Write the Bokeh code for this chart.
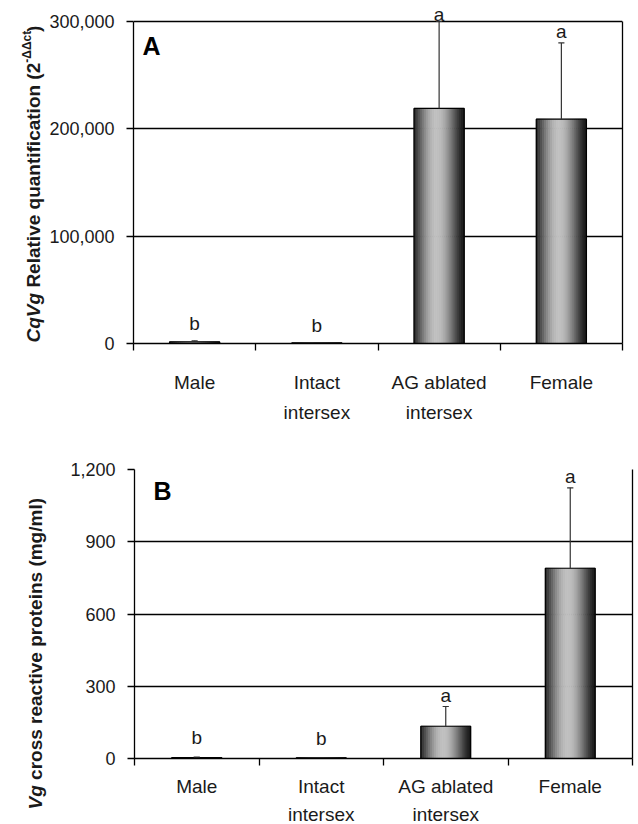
import math
from bokeh.plotting import figure
from bokeh.models import (Range1d, FixedTicker, NumeralTickFormatter, Label,
                          LabelSet, ColumnDataSource, LinearAxis)
from bokeh.layouts import column, row
from bokeh.core.properties import value
from bokeh.embed import file_html
from bokeh.resources import INLINE

# ---------------- data ----------------
categories = ["Male", "Intact\nintersex", "AG ablated\nintersex", "Female"]

a_means = [1500, 500, 219000, 209000]
a_errors = [1000, 300, 81000, 71000]
a_letters = ["b", "b", "a", "a"]
a_ticks = [0, 100000, 200000, 300000]

b_means = [4, 3, 134, 790]
b_errors = [2, 1, 82, 334]
b_letters = ["b", "b", "a", "a"]
b_ticks = [0, 300, 600, 900, 1200]

FONT = "Liberation Sans"
TXT = "#1a1a1a"

# Arial / Liberation Sans Bold advance widths (em)
BW = {" ": .278, "(": .333, ")": .333, "/": .278, "-": .333, "2": .556,
      "C": .722, "V": .667, "R": .722, "a": .556, "c": .556, "e": .556,
      "f": .333, "g": .611, "i": .278, "l": .278, "m": .889, "n": .611,
      "o": .611, "p": .611, "q": .611, "r": .389, "s": .556, "t": .333,
      "u": .611, "v": .556, "\u0394": .668}


def text_len(s, size):
    return sum(BW.get(ch, .556) for ch in s) * size


def shade(t):
    s = math.sin(math.pi * min(max(t, 0), 1) ** 0.9)
    v = 40 + 160 * max(s, 0) ** 1.4 - 16 * t
    v = int(max(20, min(230, v)))
    return "#%02x%02x%02x" % (v, v, v)


def title_fig(pieces, width, height, x_c, y_start):
    t = figure(output_backend="svg", toolbar_location=None,
               frame_width=width, frame_height=height,
               x_range=Range1d(0, width), y_range=Range1d(0, height),
               x_axis_location=None, y_axis_location=None,
               min_border=0)
    t.outline_line_color = None
    t.grid.visible = False
    t.background_fill_color = "white"
    t.border_fill_color = "white"
    pos = y_start
    for txt, size, style, shift in pieces:
        if txt.startswith(" "):
            pos += text_len(" ", size)
            txt = txt[1:]
        t.text(x=[x_c - shift], y=[pos], text=[txt], angle=math.pi / 2,
               text_font=value(FONT), text_font_size="%gpx" % size,
               text_font_style=style, text_color=TXT,
               text_align="left", text_baseline="middle")
        pos += text_len(txt, size)
    return t


def make_panel(means, errors, letters, ticks, ymax, frame_w, frame_h, extra,
               left, right, top, bottom, bar_w, panel_letter, letter_gap,
               standoff, line_h):
    ytop = ymax * (frame_h + extra) / frame_h
    p = figure(output_backend="svg", toolbar_location=None,
               frame_width=frame_w, frame_height=frame_h + extra,
               x_range=Range1d(0, len(categories)), y_range=Range1d(0, ytop),
               min_border_left=left, min_border_right=right,
               min_border_top=top, min_border_bottom=bottom)
    p.background_fill_color = "white"
    p.border_fill_color = "white"
    p.outline_line_color = None

    centers = [i + 0.5 for i in range(len(categories))]
    tops = [m + e for m, e in zip(means, errors)]

    # shaded (cylinder-like) bars built from thin slices
    N = 25
    xs, ws, ts, cs = [], [], [], []
    for c, m in zip(centers, means):
        for k in range(N):
            t = (k + 0.5) / N
            xs.append(c - bar_w / 2 + t * bar_w)
            ws.append(bar_w / N)
            ts.append(m)
            cs.append(shade(t))
    p.vbar(x=xs, width=ws, top=ts, bottom=0, fill_color=cs, line_color=cs,
           line_width=0.8)
    p.vbar(x=centers, width=bar_w, top=means, bottom=0, fill_color=None,
           line_color="black", line_width=1.2)

    # error bars (upper only)
    cap = 0.025
    p.segment(x0=centers, y0=means, x1=centers, y1=tops,
              line_color="#333333", line_width=1.2)
    p.segment(x0=[c - cap for c in centers], y0=tops,
              x1=[c + cap for c in centers], y1=tops,
              line_color="#333333", line_width=1.2)

    # significance letters
    src = ColumnDataSource(dict(x=centers, y=tops, text=letters,
                                yoff=letter_gap))
    p.add_layout(LabelSet(x="x", y="y", text="text", source=src,
                          y_offset="yoff", text_align="center",
                          text_baseline="alphabetic", text_font=value(FONT),
                          text_font_size="19px", text_color=TXT))

    # panel letter
    p.add_layout(Label(x=0, y=ymax, x_offset=panel_letter[1],
                       y_offset=-panel_letter[2], text=panel_letter[0],
                       text_font=FONT, text_font_size="25px",
                       text_font_style="bold", text_color="black",
                       text_align="left", text_baseline="top"))

    # axes
    yax = p.yaxis[0]
    yax.bounds = (0, ymax)
    yax.ticker = FixedTicker(ticks=ticks, minor_ticks=[])
    yax.formatter = NumeralTickFormatter(format="0,0")
    yax.axis_line_color = "black"
    yax.axis_line_width = 1.3
    yax.major_tick_line_color = "black"
    yax.major_tick_line_width = 1.3
    yax.major_tick_out = 7
    yax.major_tick_in = 0
    yax.major_label_standoff = 12
    yax.major_label_text_font = FONT
    yax.major_label_text_font_size = "18px"
    yax.major_label_text_color = TXT

    rax = LinearAxis(bounds=(0, ymax), ticker=FixedTicker(ticks=[]),
                     axis_line_color="black", axis_line_width=1.3,
                     major_tick_line_color=None, minor_tick_line_color=None,
                     major_label_text_font_size="0px", major_label_standoff=0)
    p.add_layout(rax, "right")

    xax = p.xaxis[0]
    xax.ticker = FixedTicker(ticks=centers,
                             minor_ticks=list(range(len(categories) + 1)))
    xax.major_label_overrides = {c: lab for c, lab in zip(centers, categories)}
    xax.axis_line_color = "black"
    xax.axis_line_width = 1.3
    xax.major_tick_line_color = None
    xax.major_tick_out = 0
    xax.major_tick_in = 0
    xax.minor_tick_line_color = "black"
    xax.minor_tick_line_width = 1.3
    xax.minor_tick_out = 7
    xax.minor_tick_in = 0
    xax.major_label_standoff = standoff
    xax.major_label_text_font = FONT
    xax.major_label_text_font_size = "19px"
    xax.major_label_text_color = TXT
    xax.major_label_text_line_height = line_h

    p.xgrid.grid_line_color = None
    p.ygrid.ticker = FixedTicker(ticks=ticks)
    p.ygrid.grid_line_color = "black"
    p.ygrid.grid_line_width = 1.3
    return p


title_a = [("CqVg", 19, "bold italic", 0),
           (" Relative quantification (2", 19, "bold", 0),
           ("-\u0394\u0394ct", 12, "bold", 7),
           (")", 19, "bold", 0)]
title_b = [("Vg", 19, "bold italic", 0),
           (" cross reactive proteins (mg/ml)", 19, "bold", 0)]

# panel A: frame 133..622 (x), 300,000 line at y=21, zero at y=343
pA = make_panel(a_means, a_errors, a_letters, a_ticks, 300000,
                489, 322, 16, 87, 14, 5, 87, 0.41, ("A", 9, 10),
                [11, 11, 1, 5], 21, 1.45)
tA = title_fig(title_a, 46, 430, 33, 430 - 337)

# panel B: frame 134..632, 1,200 line at y=469, zero at y=758
pB = make_panel(b_means, b_errors, b_letters, b_ticks, 1200,
                498, 289, 0, 84, 4, 39, 58, 0.40, ("B", 19, 7),
                [13, 13, 4, 5], 10, 1.35)
tB = title_fig(title_b, 50, 388, 35, 388 - 340)

layout = column(row(tA, pA, spacing=0), row(tB, pB, spacing=0), spacing=0)
open("out.html", "w").write(file_html(layout, INLINE))
